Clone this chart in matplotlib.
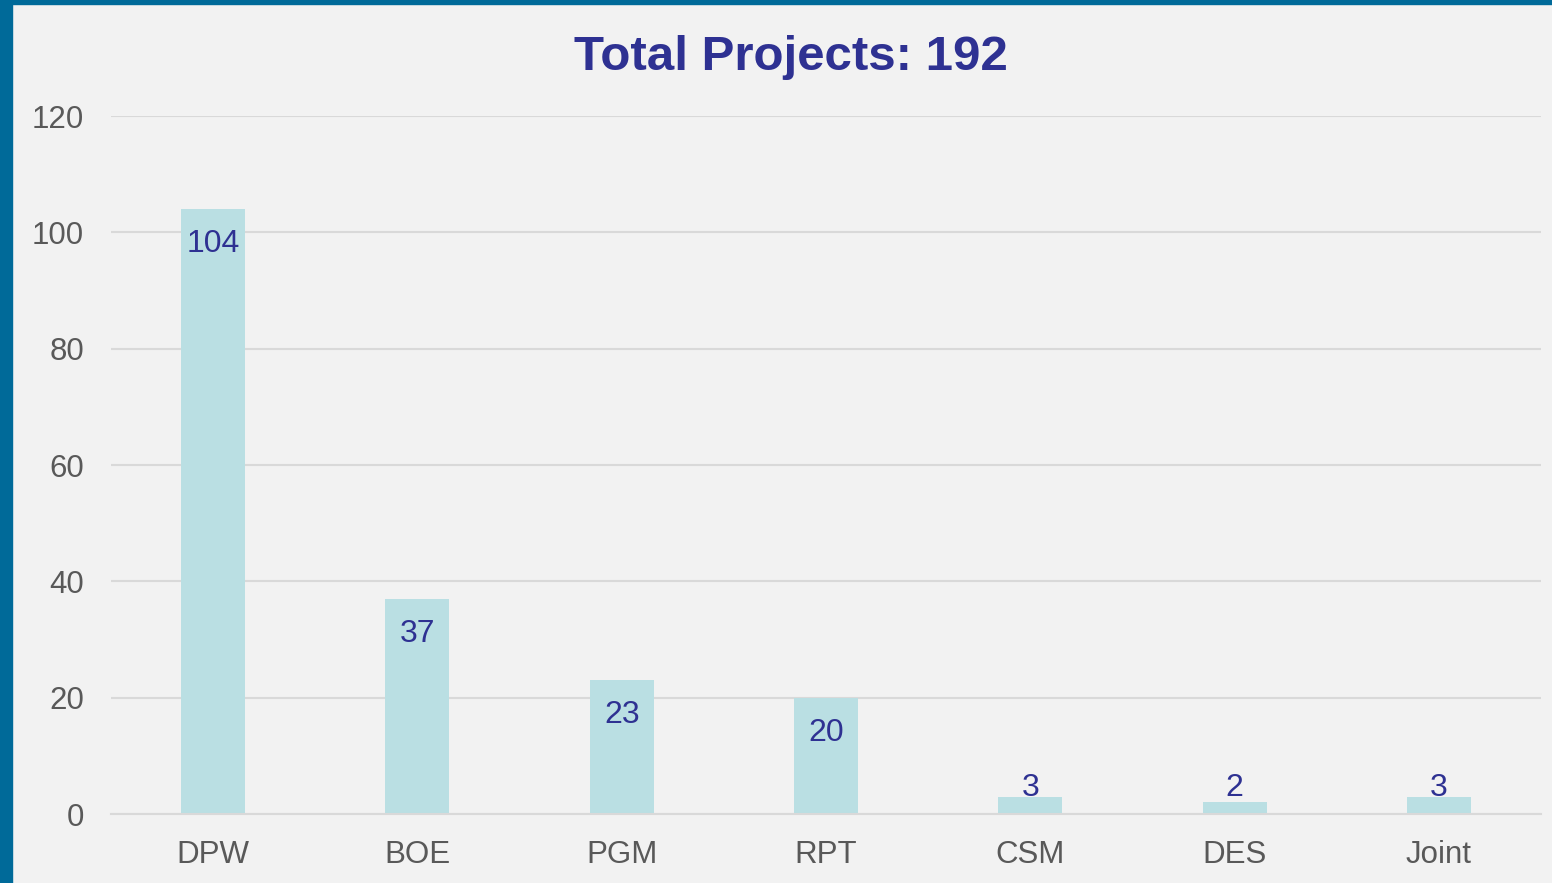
import matplotlib.pyplot as plt
from matplotlib.patches import Rectangle

categories = ["DPW", "BOE", "PGM", "RPT", "CSM", "DES", "Joint"]
projects = [104, 37, 23, 20, 3, 2, 3]
total = sum(projects)

plt.rcParams['font.family'] = ['Liberation Sans', 'DejaVu Sans']

W, H = 1552, 883
fig = plt.figure(figsize=(W / 100, H / 100), dpi=100, facecolor="#F2F2F2")
ax = fig.add_axes([111 / W, 1 - 814 / H, (1541 - 111) / W, (814 - 116) / H])
ax.set_facecolor("#F2F2F2")

# blue frame on the left and top
fig.patches.append(Rectangle((0, 0), 12 / W, 1, transform=fig.transFigure,
                             color="#006A99", zorder=0))
fig.patches.append(Rectangle((0, 1 - 4 / H), 1, 4 / H, transform=fig.transFigure,
                             color="#006A99", zorder=0))

x = range(len(categories))
ax.bar(x, projects, width=0.313, color="#BADFE3", zorder=2)

for xi, v in zip(x, projects):
    ax.text(xi, max(v - 6, 4.5), str(v), ha="center", va="center",
            fontsize=23, color="#2E3192", zorder=3)

ax.set_xlim(-0.5, len(categories) - 0.5)
ax.set_ylim(0, 120)
ax.set_yticks(range(0, 121, 20))
ax.set_xticks(list(x))
ax.set_xticklabels(categories)
ax.grid(axis="y", color="#D9D9D9", linewidth=1.5, zorder=0)
ax.tick_params(length=0, labelsize=22.5, labelcolor="#595959")
ax.tick_params(axis="x", pad=18.5)
ax.tick_params(axis="y", pad=19.5)
for s in ["left", "right", "top"]:
    ax.spines[s].set_visible(False)
ax.spines["bottom"].set_color("#D9D9D9")
ax.spines["bottom"].set_linewidth(1.5)

fig.text(791 / W, 1 - 58 / H, f"Total Projects: {total}", ha="center", va="center",
         fontsize=35.5, fontweight="bold", color="#2E3192")

fig.savefig("out.png", dpi=100, facecolor=fig.get_facecolor())
